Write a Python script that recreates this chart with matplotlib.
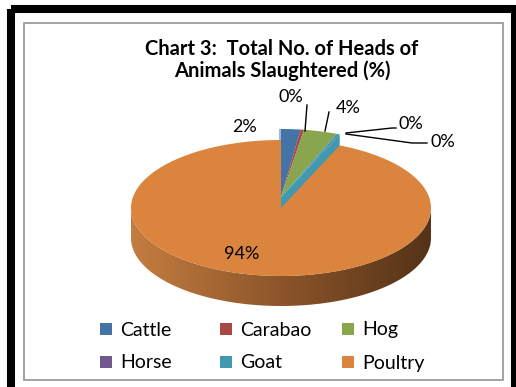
import numpy as np
import matplotlib.pyplot as plt
from matplotlib.patches import Polygon, Rectangle
from matplotlib.colors import LinearSegmentedColormap

categories = ['Cattle', 'Carabao', 'Hog', 'Horse', 'Goat', 'Poultry']
shares = [2.1, 0.35, 3.6, 0.05, 0.3, 93.6]
colors = ['#4572A7', '#AA4643', '#89A54E', '#71588F', '#4198AF', '#DB843D']
title = 'Chart 3:  Total No. of Heads of\nAnimals Slaughtered (%)'

plt.rcParams['font.family'] = ['Lato', 'DejaVu Sans']

W, H = 516, 387
fig = plt.figure(figsize=(W / 100, H / 100), dpi=100)
ax = fig.add_axes([0, 0, 1, 1])
ax.set_xlim(0, W)
ax.set_ylim(H, 0)
ax.axis('off')

# frames
ax.add_patch(Rectangle((11, 9), 504, 382, fill=False, ec='black', lw=5.8))
ax.add_patch(Rectangle((23.5, 22.5), 479, 357.5, fill=False, ec='#9c9c9c', lw=1.3))

ax.text(282, 60, title, ha='center', va='center', fontsize=14.5,
        fontweight='bold', linespacing=1.1)

# 3d pie geometry (pixels)
cx, cy = 281, 208
a, b, depth = 150, 68, 30
lift = 11   # the small slices sit a little higher than poultry


def rim(t, x0, y0):
    t = np.radians(t)
    return x0 + a * np.sin(t), y0 - b * np.cos(t)


vals = np.array(shares)
edges = np.concatenate([[0], np.cumsum(vals)]) / vals.sum() * 360

# small slices first (they are at the back)
for i in range(len(vals) - 1):
    x0, y0 = cx, cy - lift
    t = np.linspace(edges[i], edges[i + 1], 20)
    xs, ys = rim(t, x0, y0)
    if i == 0:
        sx, sy = rim(edges[0], x0, y0)
        ax.add_patch(Polygon([(x0 - 2, y0), (sx - 2, sy), (sx, sy), (x0, y0)],
                             closed=True, fc='#9db6d8', ec='none'))
    if i == len(vals) - 2:
        # cut face at the end of the last small slice
        ex, ey = rim(edges[i + 1], x0, y0)
        ax.add_patch(Polygon([(x0, y0), (ex, ey), (ex, ey + depth), (x0, y0 + depth)],
                             closed=True, fc=colors[i], ec='none'))
    ax.add_patch(Polygon(np.column_stack([np.r_[x0, xs], np.r_[y0, ys]]),
                         closed=True, fc=colors[i], ec='none'))

# poultry: front wall with shading, then top
t0, t1 = edges[-2], edges[-1]
tw = np.linspace(max(t0, 90), min(t1, 270), 80)
wx, wy = rim(tw, cx, cy)
wall = Polygon(np.column_stack([np.r_[wx, wx[::-1]], np.r_[wy, wy[::-1] + depth]]),
               closed=True, fc='none', ec='none')
ax.add_patch(wall)
shade = LinearSegmentedColormap.from_list('shade', ['#C47D40', '#8C552A', '#553218'])
img = ax.imshow(np.linspace(0, 1, 256)[::-1].reshape(1, -1), cmap=shade,
                extent=[cx + a, cx - a, cy + b + depth, cy - 5], aspect='auto')
img.set_clip_path(wall)

t = np.linspace(t0, t1, 200)
xs, ys = rim(t, cx, cy)
ax.add_patch(Polygon(np.column_stack([np.r_[cx, xs], np.r_[cy, ys]]),
                     closed=True, fc=colors[-1], ec='none'))
ax.set_xlim(0, W)
ax.set_ylim(H, 0)

# percent labels and leader lines
label_pos = [(245, 127), (291, 97), (348, 108), (411, 124), (443, 142), (242, 254)]
leaders = [None, [(307, 105), (305, 131)], [(329, 112), (325, 131)],
           [(346, 133), (392, 128), (396, 128)], [(346, 134), (412, 143), (427, 143)], None]
for v, (lx, ly), ld in zip(vals, label_pos, leaders):
    ax.text(lx, ly, f'{round(v):.0f}%', ha='center', va='center', fontsize=13)
    if ld:
        px, py = zip(*ld)
        ax.plot(px, py, color='black', lw=1.0)

# legend, filled row by row like the original
col_x = [100, 220, 342]
row_y = [329, 362]
for k, (name, c) in enumerate(zip(categories, colors)):
    x, y = col_x[k % 3], row_y[k // 3]
    ax.add_patch(Rectangle((x, y - 6), 12, 12, fc=c, ec='none'))
    ax.text(x + 20, y + 1, name, ha='left', va='center', fontsize=14)

fig.savefig('out.png', dpi=100)
